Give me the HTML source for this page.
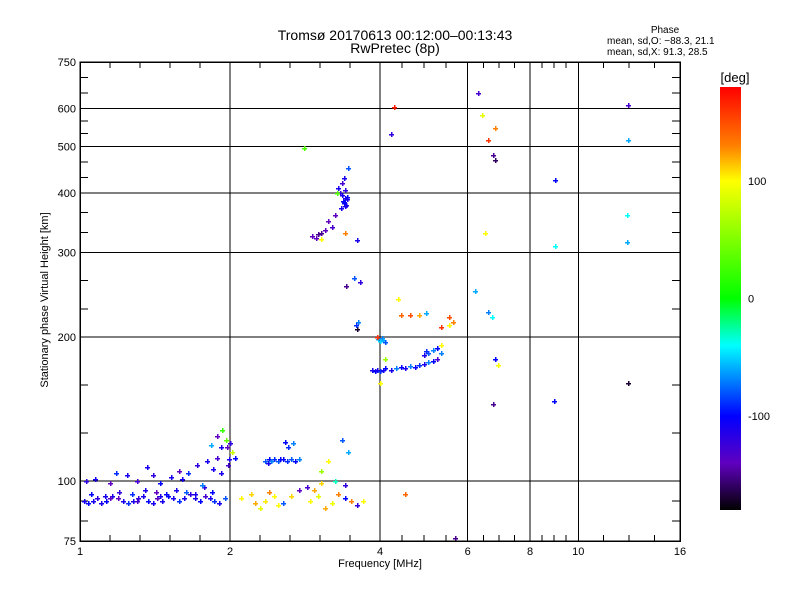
<!DOCTYPE html>
<html><head><meta charset="utf-8"><style>
body{margin:0;background:#fff;}
svg text{font-family:"Liberation Sans",sans-serif;fill:#000;}
</style></head><body>
<svg id="chart" width="800" height="600" xmlns="http://www.w3.org/2000/svg" shape-rendering="crispEdges">
<defs>
<linearGradient id="cb" x1="0" y1="1" x2="0" y2="0">
<stop offset="0" stop-color="#000000"/>
<stop offset="0.111" stop-color="#6000c0"/>
<stop offset="0.222" stop-color="#0000ff"/>
<stop offset="0.389" stop-color="#00ffff"/>
<stop offset="0.5" stop-color="#00ff00"/>
<stop offset="0.778" stop-color="#ffff00"/>
<stop offset="0.861" stop-color="#ff8000"/>
<stop offset="1" stop-color="#ff0000"/>
</linearGradient>
</defs>
<text x="395" y="40" font-size="14" text-anchor="middle">Tromsø 20170613 00:12:00–00:13:43</text>
<text x="395" y="53" font-size="14" text-anchor="middle">RwPretec (8p)</text>
<text x="665" y="33" font-size="10" text-anchor="middle">Phase</text>
<text x="607" y="44" font-size="10">mean, sd,O: −88.3, 21.1</text>
<text x="607" y="55" font-size="10">mean, sd,X:  91.3, 28.5</text>
<g id="grid"></g>
<g id="axes"></g>
<g id="marks"></g>
<rect x="80" y="62" width="600" height="479" fill="none" stroke="#000" stroke-width="1.5"/>
<text x="380" y="567" font-size="11" text-anchor="middle">Frequency [MHz]</text>
<text x="48" y="300" font-size="11" text-anchor="middle" transform="rotate(-90 48 300)">Stationary phase Virtual Height [km]</text>
<rect x="720" y="87" width="21" height="423" fill="url(#cb)"/>
<text x="735" y="82" font-size="13" text-anchor="middle">[deg]</text>
<g id="cbticks"></g>
</svg>
<script>
const xTicks=[1,2,4,6,8,10,16];
const xTickLabels=["1","2","4","6","8","10","16"];
const yTicks=[75,100,200,300,400,500,600,750];
const yTickLabels=["75","100","200","300","400","500","600","750"];
const yGrid=[100,200,300,400,500,600];
const cbTicks=[100,0,-100];
const cbTickLabels=["100","0","-100"];

const bandF=[1.02,1.04,1.06,1.08,1.1,1.13,1.16,1.19,1.22,1.25,1.28,1.31,1.34,1.37,1.4,1.43,1.46,1.5,1.54,1.58,1.62,1.66,1.7,1.74,1.78,1.82,1.86,1.9,1.95,1.05,1.12,1.2,1.27,1.35,1.42,1.49,1.56,1.63,1.7,1.77,1.84,1.15,1.3,1.45];
const bandH=[91,90,91,92,90,91,93,92,91,90,91,92,93,91,90,92,91,93,92,91,92,94,92,91,93,92,91,90,92,94,93,95,94,96,95,94,96,95,94,97,95,92,91,93];
const bandP=[-110,-100,-110,-120,-110,-100,-110,-140,-110,-90,-110,-120,-110,-100,-110,-140,-110,-100,-110,-90,-110,-120,-110,-100,-130,-110,-90,-110,-80,-100,-110,-120,-90,-110,-140,-100,-110,-80,-110,-120,-100,-140,-130,-110];

const scatF=[1.03,1.07,1.15,1.18,1.24,1.3,1.36,1.4,1.45,1.52,1.58,1.6,1.65,1.72,1.76,1.8,1.85,1.88,1.92,1.97,1.99,1.88,1.92,1.96,2.0,2.02,2.05,1.93,1.98,1.83];
const scatH=[100,101,99,104,103,100,107,103,99,102,105,101,104,108,98,110,106,112,104,118,111,124,118,122,120,115,112,128,108,119];
const scatP=[-120,-110,-140,-90,-110,-130,-110,-120,-100,-110,-140,-110,-90,-120,-70,-110,-110,-130,-110,-140,-110,-140,-110,40,-120,80,-100,20,-130,-60];

const cyanF=[2.35,2.4,2.45,2.5,2.55,2.6,2.65,2.7,2.75,2.38,2.62,2.58,2.68,2.42,2.52];
const cyanH=[110,111,111,110,111,110,111,110,111,109,118,121,120,110,111];
const cyanP=[-80,-100,-90,-80,-100,-90,-80,-100,-70,-110,-90,-100,-70,-70,-100];

const warmF=[2.1,2.2,2.25,2.3,2.4,2.5,2.55,2.65,2.75,2.85,2.9,3.0,3.05,3.1,3.2,3.3,3.4,3.5,3.6,3.7,4.5,2.35,2.45,3.05,3.15,3.25,3.35,3.4,3.45,2.95];
const warmH=[92,94,90,88,95,89,90,93,96,97,91,93,99,88,90,94,92,91,89,91,94,91,93,105,110,100,122,98,115,96];
const warmP=[100,110,120,90,130,100,-80,110,-140,-130,100,90,110,120,95,130,-100,130,-120,100,140,105,100,60,100,-30,-80,-120,-60,120];

const upF=[3.3,3.32,3.35,3.37,3.38,3.4,3.42,3.44,3.36,3.39,3.41,3.43,3.45,3.34,3.38,3.4,2.92,2.98,3.05,3.1,3.15,3.2,3.25,3.0,3.6,3.05,3.4,3.28];
const upH=[410,400,395,385,380,390,378,392,420,430,405,388,450,372,383,375,325,322,330,335,350,340,360,328,318,320,330,400];
const upP=[-110,-120,-110,-100,-110,-120,-110,-100,-130,-110,-120,-110,-80,-110,-100,-110,-140,-140,-150,-140,-140,-130,-140,-150,-110,100,130,30];

const midF=[3.85,3.9,3.95,4.0,4.05,4.1,4.2,4.3,4.4,4.5,4.6,4.7,4.8,4.9,5.0,5.1,5.2,5.0,5.1,5.2,5.3,5.3,4.9,4.95,3.97,4.0,4.03,4.06,4.1,3.95,4.4,4.6,4.8,4.95,5.3,5.5,5.6,5.5,4.35,4.1,4.0];
const midH=[171,170,171,170,171,172,171,172,173,172,174,173,175,176,177,178,180,185,188,190,192,185,183,187,198,196,199,197,195,200,222,222,222,224,210,212,215,220,240,180,160];
const midP=[-110,-100,-110,-90,-110,-100,-110,-70,-100,-110,-70,-100,-90,-110,-70,-100,-130,-80,-70,-100,100,-70,-110,-90,-60,-50,-70,-60,-80,160,140,150,120,-60,160,100,130,150,100,60,100];

const sparseF=[3.55,3.42,3.65,3.62,3.6,4.27,4.2,2.82,6.3,6.4,6.6,6.8,6.75,6.8,6.5,6.2,6.6,6.7,6.8,6.9,6.75,9.0,9.0,8.95,12.6,12.6,12.5,12.5,12.6,5.65,3.58];
const sparseH=[265,255,260,215,208,605,530,495,645,580,515,545,480,468,330,250,225,220,180,175,145,425,310,147,610,515,360,315,160,76,212];
const sparseP=[-80,-150,-120,-70,-170,170,-120,30,-130,90,160,130,-150,-160,100,-60,-70,-40,-100,100,-150,-100,-40,-100,-130,-60,-40,-60,-170,-150,-90];

const X0=80,X1=680,Y0=541,Y1=62;
function xs(f){return X0+(X1-X0)*Math.log2(f)/4;}
function ys(h){return Y0-(Y0-Y1)*Math.log10(h/75);}
const cmapV=[-180,-140,-100,-40,0,100,130,180];
const cmapC=[[0,0,0],[96,0,192],[0,0,255],[0,255,255],[0,255,0],[255,255,0],[255,128,0],[255,0,0]];
function col(v){v=Math.max(-180,Math.min(180,v));for(let i=0;i<cmapV.length-1;i++){if(v<=cmapV[i+1]){const t=(v-cmapV[i])/(cmapV[i+1]-cmapV[i]);const a=cmapC[i],b=cmapC[i+1];return 'rgb('+a.map((c,k)=>Math.round(c+(b[k]-c)*t)).join(',')+')';}}return 'rgb(255,0,0)';}
const NS='http://www.w3.org/2000/svg';
function mk(tag,attrs,parent){const e=document.createElementNS(NS,tag);for(const k in attrs)e.setAttribute(k,attrs[k]);parent.appendChild(e);return e;}
const grid=document.getElementById('grid'),axes=document.getElementById('axes'),marks=document.getElementById('marks'),cbt=document.getElementById('cbticks');
xTicks.forEach((t,i)=>{const x=xs(t);
 if(i>0&&i<xTicks.length-1){const l=mk('line',{x1:x,x2:x,y1:Y1,y2:Y0,stroke:'#000','stroke-width':1},grid);}
 const tx=mk('text',{x:x,y:555,'font-size':11,'text-anchor':'middle'},axes);tx.textContent=xTickLabels[i];
 
 if(i<xTicks.length-1){const a=Math.log2(t),b=Math.log2(xTicks[i+1]);const n=(b-a)>0.9?5:4;for(let k=1;k<n;k++){const mx=xs(Math.pow(2,a+(b-a)*k/n));
  const m=mk('line',{x1:mx,x2:mx,y1:Y1,y2:Y1+6,stroke:'#000'},axes);
  const m2=mk('line',{x1:mx,x2:mx,y1:Y0,y2:Y0-6,stroke:'#000'},axes);}}
});
yGrid.forEach(t=>{const y=ys(t);const l=mk('line',{x1:X0,x2:X1,y1:y,y2:y,stroke:'#000'},grid);});
yTicks.forEach((t,i)=>{const y=ys(t);const tx=mk('text',{x:76,y:y+4,'font-size':11,'text-anchor':'end'},axes);tx.textContent=yTickLabels[i];
 
 if(i<yTicks.length-1){const a=Math.log10(t),b=Math.log10(yTicks[i+1]);for(let k=1;k<3;k++){const my=ys(Math.pow(10,a+(b-a)*k/3));
  const m=mk('line',{x1:X0,x2:X0+8,y1:my,y2:my,stroke:'#000'},axes);
  const m2=mk('line',{x1:X1,x2:X1-8,y1:my,y2:my,stroke:'#000'},axes);}}
});
cbTicks.forEach((v,i)=>{const y=510-(v+180)/360*423;const tx=mk('text',{x:748,y:y+4,'font-size':11},cbt);tx.textContent=cbTickLabels[i];
 });
function plot(F,H,P){for(let i=0;i<F.length;i++){const x=Math.round(xs(F[i])),y=Math.round(ys(H[i]));const c=col(P[i]);
 const g=mk('g',{fill:c},marks);
 
 
 mk('rect',{x:x-2,y:y,width:5,height:1.4},g);
 mk('rect',{x:x,y:y-2,width:1.4,height:5},g);}}
plot(bandF,bandH,bandP);plot(scatF,scatH,scatP);plot(cyanF,cyanH,cyanP);plot(warmF,warmH,warmP);plot(upF,upH,upP);plot(midF,midH,midP);plot(sparseF,sparseH,sparseP);
</script>
</body></html>
